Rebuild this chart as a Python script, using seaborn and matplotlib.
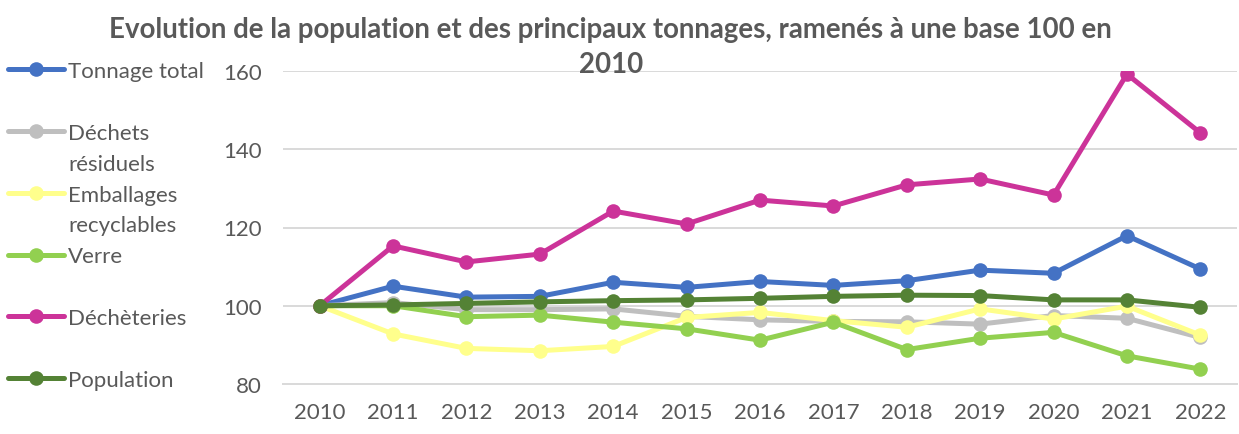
import matplotlib
matplotlib.use("Agg")
import matplotlib.pyplot as plt
from matplotlib.lines import Line2D
import pandas as pd
import seaborn as sns

# Indices (base 100 en 2010)
years = list(range(2010, 2023))
tonnage_total = [100, 105.0, 102.2, 102.4, 106.0, 104.7, 106.2, 105.2, 106.4, 109.1, 108.3, 117.9, 109.4]
dechets_residuels = [100, 100.8, 99.0, 99.0, 99.2, 97.3, 96.4, 96.0, 95.9, 95.3, 97.5, 96.8, 91.9]
emballages_recyclables = [100, 92.8, 89.1, 88.5, 89.6, 97.0, 98.3, 96.2, 94.5, 99.2, 96.6, 99.9, 92.5]
verre = [100, 100.0, 97.2, 97.6, 95.8, 94.1, 91.2, 95.8, 88.8, 91.7, 93.2, 87.2, 83.8]
decheteries = [100, 115.3, 111.2, 113.2, 124.2, 120.9, 127.0, 125.5, 130.9, 132.4, 128.3, 159.2, 144.2]
population = [100, 100.2, 100.6, 101.0, 101.3, 101.5, 101.9, 102.4, 102.7, 102.6, 101.5, 101.5, 99.6]

series_names = ["Tonnage total", "Déchets résiduels", "Emballages recyclables",
                "Verre", "Déchèteries", "Population"]
series_values = [tonnage_total, dechets_residuels, emballages_recyclables,
                 verre, decheteries, population]
colors = ["#4472C4", "#BFBFBF", "#FFFF8C", "#92D050", "#CC3399", "#548235"]
# legend laid out on a regular row grid; long names wrap onto a second row
legend_rows = ["Tonnage total", None, "Déchets", "résiduels", "Emballages",
               "recyclables", "Verre", None, "Déchèteries", None, "Population"]
legend_keys = [0, None, 1, None, 2, None, 3, None, 4, None, 5]

y_ticks = [80, 100, 120, 140, 160]
title_lines = ["Evolution de la population et des principaux tonnages, ramenés à une base 100 en",
               "2010"]

df = pd.DataFrame({
    "year": years * len(series_names),
    "value": [v for vals in series_values for v in vals],
    "serie": [n for n in series_names for _ in years],
})

sns.set_style("white")
plt.rcParams["font.family"] = ["Lato", "DejaVu Sans"]
text_color = "#595959"
grid_color = "#D9D9D9"

fig = plt.figure(figsize=(12.39, 4.35), dpi=100)
ax = fig.add_axes([283 / 1239, 50 / 435, 954 / 1239, 313 / 435])

LW = 3.6
MS = 10.5
sns.lineplot(data=df, x="year", y="value", hue="serie", hue_order=series_names,
             palette=colors, marker="o", markersize=MS, markeredgewidth=0,
             linewidth=LW, legend=False, ax=ax, zorder=3)

ax.set_xlim(2009.5, 2022.5)
ax.set_ylim(80, 160)
ax.set_xticks(years)
ax.set_xticklabels([str(y) for y in years])
ax.set_xticks([y + 0.5 for y in range(2009, 2023)], minor=True)
ax.set_yticks(y_ticks)
ax.set_xlabel("")
ax.set_ylabel("")

for v in y_ticks[1:]:
    ax.axhline(v, color=grid_color, lw=1.4, zorder=1)

for side in ["top", "right", "left"]:
    ax.spines[side].set_visible(False)
ax.spines["bottom"].set_color(grid_color)
ax.spines["bottom"].set_linewidth(1.4)

ax.tick_params(axis="x", which="major", length=0, pad=13, labelsize=16, labelcolor=text_color)
ax.tick_params(axis="x", which="minor", length=7, width=1.4, direction="in", color=grid_color)
ax.tick_params(axis="y", length=0, pad=15, labelsize=16, labelcolor=text_color)

for i, line in enumerate(title_lines):
    fig.text(0.493, 1 - (30 + 35 * i) / 435, line, ha="center", va="center",
             fontsize=19.9, fontweight="bold", color=text_color)

handles, labels = [], []
for row, key in zip(legend_rows, legend_keys):
    if key is None:
        handles.append(Line2D([], [], color="none"))
    else:
        handles.append(Line2D([], [], color=colors[key], lw=LW, marker="o",
                              markersize=MS, markeredgewidth=0))
    labels.append(row if row else " ")

fig.legend(handles, labels, loc="upper left", bbox_to_anchor=(8 / 1239, 1 - 62 / 435),
           frameon=False, fontsize=16, handlelength=2.5, handletextpad=0.2,
           labelspacing=0.49, borderpad=0, borderaxespad=0, labelcolor=text_color)

fig.savefig("out.png", dpi=100)
